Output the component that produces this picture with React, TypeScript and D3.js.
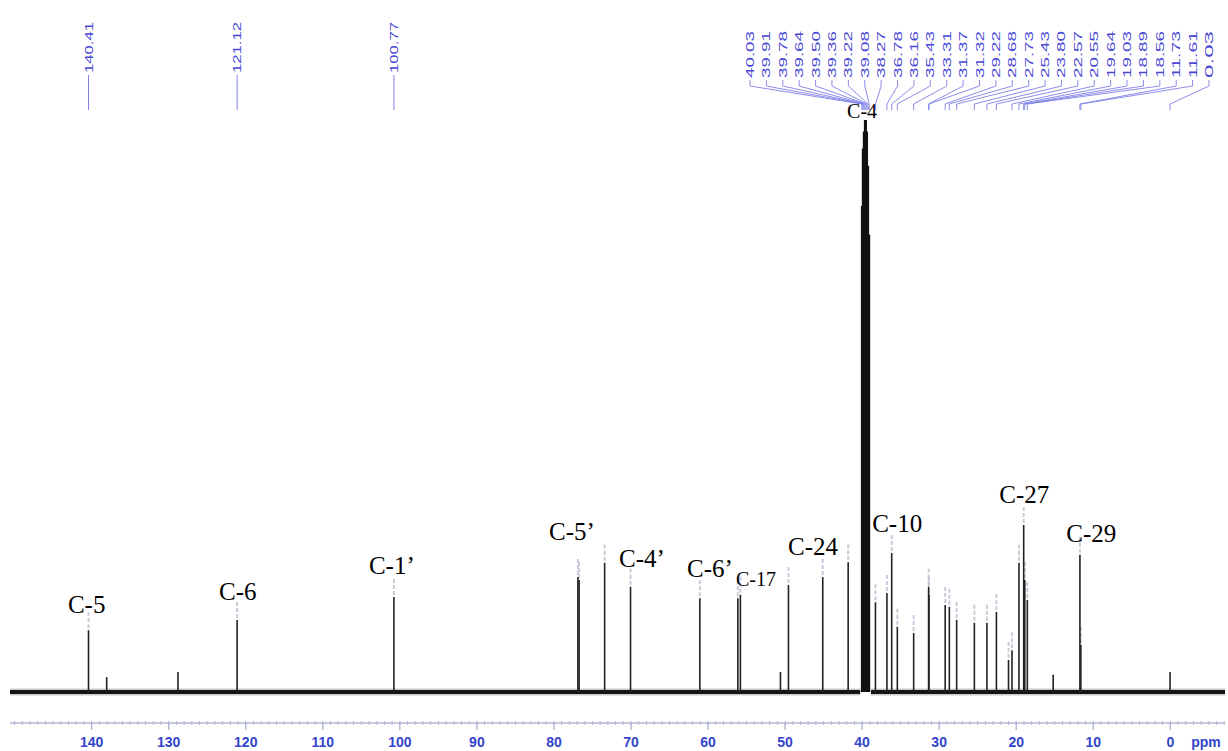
import React from "react";
import * as d3 from "d3";

// ---- data ----
const peakPpm = [140.41, 138.05, 128.8, 121.12, 100.77, 76.89, 76.73, 73.42, 70.06, 61.06, 56.13, 55.8, 50.6, 49.56, 45.11, 41.81,
  40.03, 39.91, 39.78, 39.64, 39.5, 39.36, 39.22, 39.08,
  38.27, 36.78, 36.16, 35.43, 33.31, 31.37, 31.32, 29.22, 28.68, 27.73, 25.43, 23.8, 22.57, 21.0, 20.55, 19.64, 19.03, 18.89, 18.56, 15.2, 11.73, 11.61, 0.03];
const peakIntensity = [10.8, 2.6, 3.5, 12.6, 16.6, 20.1, 19.6, 22.6, 18.4, 16.4, 16.4, 17.0, 3.5, 18.7, 20.1, 22.7,
  85, 95, 98, 100, 100, 98, 92, 80,
  15.7, 17.3, 24.3, 11.4, 10.3, 18.4, 17.0, 15.2, 14.9, 12.6, 12.1, 12.1, 14.0, 5.6, 7.3, 22.6, 29.2, 19.6, 16.1, 3.0, 24.0, 8.2, 3.5];

const singleLabels = ["140.41", "121.12", "100.77"];
const clusterLabels = ["40.03", "39.91", "39.78", "39.64", "39.50", "39.36", "39.22", "39.08", "38.27", "36.78", "36.16", "35.43",
  "33.31", "31.37", "31.32", "29.22", "28.68", "27.73", "25.43", "23.80", "22.57", "20.55", "19.64", "19.03", "18.89", "18.56",
  "11.73", "11.61", "0.03"];

const assignText = ["C-5", "C-6", "C-1\u2019", "C-5\u2019", "C-4\u2019", "C-6\u2019", "C-17", "C-24", "C-10", "C-27", "C-29", "C-4"];
const assignPpm = [140.65, 121.04, 101.04, 77.66, 68.57, 59.74, 53.77, 46.36, 35.45, 18.96, 10.26, 40.0];
const assignLevel = [13.8, 16.1, 20.6, 26.6, 21.9, 20.1, 18.5, 24.0, 28.0, 33.0, 26.2, 100.3];
const assignSmall = ["C-17", "C-4"];

const axisTicks = [140, 130, 120, 110, 100, 90, 80, 70, 60, 50, 40, 30, 20, 10, 0];
const baselineSegments = [[150.6, 40.25], [38.85, -7.1]];

const W = 1228, H = 751;

export default function App() {
  const x = d3.scaleLinear().domain([150.6, -7.1]).range([10, 1225]);
  const y = d3.scaleLinear().domain([0, 100]).range([692, 120]);
  const axisY = 723;
  const minor = d3.range(-7, 151, 1);
  const blue = "#4747d6";
  const lineBlue = "#7f80e6";

  const clusterX0 = 750, clusterX1 = 1209;
  const step = (clusterX1 - clusterX0) / (clusterLabels.length - 1);

  return (
    <svg width={W} height={H} style={{ position: "absolute", left: 0, top: 0, background: "#fff" }}>
      {/* baseline */}
      {baselineSegments.map((s, i) => (
        <g key={"b" + i}>
          <line x1={x(s[0])} x2={x(s[1])} y1={y(0)} y2={y(0)} stroke="#555" strokeWidth={7} opacity={0.3} />
          <line x1={x(s[0])} x2={x(s[1])} y1={y(0)} y2={y(0)} stroke="#151515" strokeWidth={4} />
        </g>
      ))}
      {/* peak markers */}
      {peakPpm.map((p, i) =>
        peakIntensity[i] >= 5 && peakIntensity[i] < 50 ? (
          <line key={"m" + i} x1={x(p)} x2={x(p)} y1={y(peakIntensity[i]) - 18} y2={y(peakIntensity[i]) - 2}
            stroke="#b9b9cc" strokeWidth={2} strokeDasharray="4,2" opacity={0.75} />
        ) : null
      )}
      {/* peaks */}
      {peakPpm.map((p, i) => (
        <line key={"p" + i} x1={x(p)} x2={x(p)} y1={y(0)} y2={y(peakIntensity[i])}
          stroke={peakIntensity[i] > 50 ? "#111" : "#222"} strokeWidth={peakIntensity[i] > 50 ? 2 : 1.6} />
      ))}

      {/* assignments */}
      {assignText.map((t, i) => (
        <text key={"a" + i} x={x(assignPpm[i])} y={y(assignLevel[i])} textAnchor="middle"
          fontFamily="'Liberation Serif', 'Times New Roman', serif" fontSize={assignSmall.includes(t) ? 20 : 25} fill="#000">
          {t}
        </text>
      ))}

      {/* top single labels */}
      {singleLabels.map((t, i) => {
        const px = x(+t);
        return (
          <g key={"s" + i}>
            <text transform={`translate(${px},73) rotate(-90)`} fontFamily="'Liberation Sans', Arial, sans-serif"
              fontSize={10.5} fill={blue} dominantBaseline="central" textLength={51} lengthAdjust="spacingAndGlyphs">{t}</text>
            <line x1={px} x2={px} y1={75} y2={110} stroke={lineBlue} strokeWidth={1} />
          </g>
        );
      })}

      {/* top cluster labels */}
      {clusterLabels.map((t, i) => {
        const lx = clusterX0 + i * step;
        const px = x(+t);
        return (
          <g key={"c" + i}>
            <text transform={`translate(${lx},78) rotate(-90)`} fontFamily="'Liberation Sans', Arial, sans-serif"
              fontSize={10.5} fill={blue} dominantBaseline="central" textLength={47} lengthAdjust="spacingAndGlyphs">{t}</text>
            <polyline points={`${lx},80 ${lx},86 ${px},104 ${px},110`} fill="none" stroke={lineBlue} strokeWidth={0.9} />
          </g>
        );
      })}

      {/* axis */}
      <line x1={10} x2={1225} y1={axisY} y2={axisY} stroke="#b3b6d6" strokeWidth={1.5} />
      {minor.map((m) => (
        <line key={"n" + m} x1={x(m)} x2={x(m)} y1={axisY - 2} y2={axisY + 2} stroke="#b3b6d6" strokeWidth={1} />
      ))}
      {axisTicks.map((t) => (
        <g key={"t" + t}>
          <line x1={x(t)} x2={x(t)} y1={axisY} y2={axisY + 7} stroke="#a7aad0" strokeWidth={1.2} />
          <text x={x(t)} y={747} textAnchor="middle" fontFamily="'Liberation Sans', Arial, sans-serif"
            fontWeight="bold" fontSize={14} fill="#3344cc">{t}</text>
        </g>
      ))}
      <text x={1206} y={747} textAnchor="middle" fontFamily="'Liberation Sans', Arial, sans-serif"
        fontWeight="bold" fontSize={14} fill="#3344cc">ppm</text>
    </svg>
  );
}
